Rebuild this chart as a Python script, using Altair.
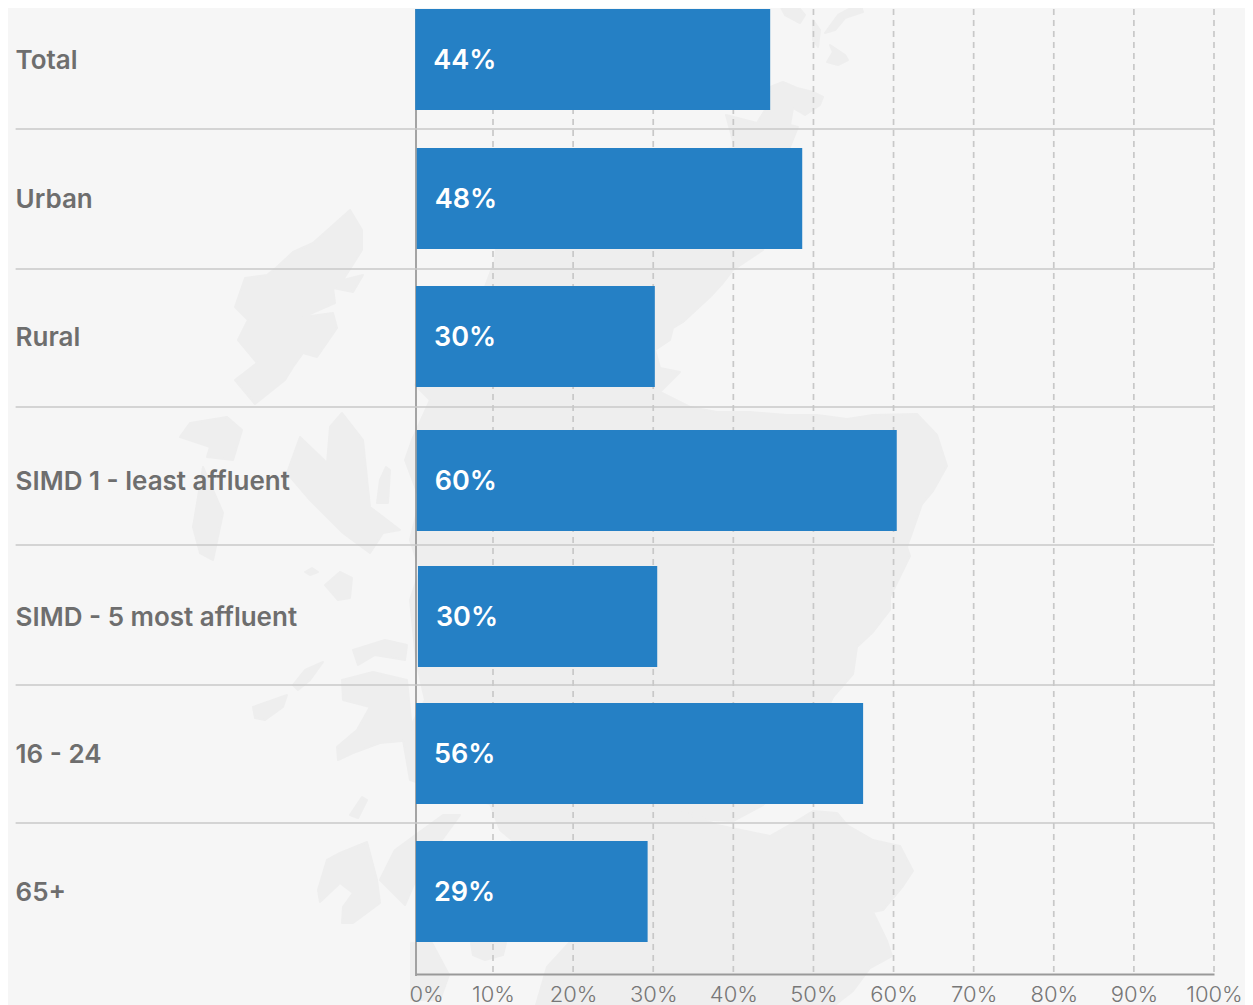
import altair as alt

categories = ["Total", "Urban", "Rural", "SIMD 1 - least affluent",
              "SIMD - 5 most affluent", "16 - 24", "65+"]
values = [44.6, 48.6, 30.2, 60.4, 30.5, 56.2, 29.3]
bar_starts = [-0.1, 0.1, 0.0, 0.1, 0.25, 0.0, 0.0]
value_labels = ["44%", "48%", "30%", "60%", "30%", "56%", "29%"]
rows = list(range(7))
separators = [0.5, 1.5, 2.5, 3.5, 4.5, 5.5]
grid_ticks = [10, 20, 30, 40, 50, 60, 70, 80, 90, 100]
axis_ticks = [0] + grid_ticks

# Decorative background map outlines (map units = picture pixels)
mainland = [(505,165),(560,158),(640,155),(700,152),(735,148),(726,115),(757,123),(765,110),(770,87),(783,82),(797,88),(813,92),(823,97),(820,105),(805,115),(793,108),(790,125),(798,127),(790,147),(780,200),(763,250),(733,270),(723,283),(710,297),(683,322),(673,328),(670,340),(655,350),(660,368),(680,372),(660,392),(690,407),(717,412),(750,412),(787,415),(817,415),(847,419),(873,415),(917,414),(937,435),(947,466),(933,491),(922,504),(907,547),(910,556),(890,597),(890,610),(873,632),(857,647),(853,674),(833,697),(800,770),(763,805),(733,821),(693,819),(677,806),(717,825),(770,836),(800,819),(813,811),(837,813),(847,825),(873,840),(900,846),(913,871),(903,886),(883,910),(873,912),(887,941),(892,956),(870,968),(853,991),(835,1005),(536,1005),(547,967),(569,943),(560,880),(500,830),(490,804),(440,790),(410,780),(403,740),(425,700),(416,660),(410,600),(420,570),(410,540),(420,500),(405,460),(412,440),(430,400),(415,385),(440,340),(480,300),(495,260),(500,200)]
lewis = [(350,210),(362,230),(362,250),(343,280),(363,275),(353,292),(333,288),(335,303),(303,317),(333,313),(337,328),(317,357),(303,353),(293,367),(285,380),(255,404),(235,380),(257,363),(238,340),(248,320),(235,307),(245,278),(267,275),(277,267),(293,252),(313,243)]
uist_n = [(180,437),(190,423),(227,417),(242,430),(233,460),(207,457),(210,447)]
uist_s = [(203,467),(223,513),(213,560),(200,553),(193,527)]
skye = [(342,413),(363,440),(370,507),(400,530),(383,533),(370,553),(343,533),(320,510),(310,500),(287,473),(300,437),(327,463),(330,427)]
raasay = [(386,467),(390,470),(388,503),(377,503),(380,480)]
rum = [(325,585),(340,572),(352,578),(350,598),(338,600)]
eigg = [(305,572),(312,568),(318,572),(310,575)]
coll = [(253,707),(287,695),(283,707),(265,720),(255,718)]
tiree = [(293,685),(305,670),(323,662),(310,680),(298,690)]
mull = [(342,680),(373,672),(407,680),(413,740),(380,743),(353,753),(338,760),(337,747),(357,730),(370,707),(343,700)]
ardnamurchan = [(353,650),(385,640),(407,645),(405,660),(375,655),(358,665)]
islay = [(367,842),(377,880),(380,903),(353,923),(342,923),(343,907),(353,893),(340,883),(320,902),(318,890),(327,860),(340,853)]
colonsay = [(362,797),(367,800),(358,818),(350,815)]
kintyre = [(443,815),(460,815),(420,870),(405,905),(380,880),(395,850)]
arran = [(411,943),(432,943),(449,975),(440,1000),(411,1000)]
bute = [(471,943),(506,943),(503,955),(485,960),(473,955)]
orkney_a = [(860,3),(863,12),(845,18),(835,30),(825,33),(838,15)]
orkney_b = [(830,45),(845,55),(848,60),(838,65),(827,62),(833,52)]
orkney_c = [(777,0),(795,3),(805,15),(800,23),(785,15)]
orkney_d = [(813,20),(820,30),(818,47),(813,40)]
map_shapes = [mainland, lewis, uist_n, uist_s, skye, raasay, rum, eigg, coll, tiree, mull,
              ardnamurchan, islay, colonsay, kintyre, arran, bute, orkney_a, orkney_b, orkney_c, orkney_d]

BAR = "#2580c5"
FONT = "Inter"
rows_df = alt.Data(values=[
    {"row": r, "cat": c, "value": v, "start": s, "label": l}
    for r, c, v, s, l in zip(rows, categories, values, bar_starts, value_labels)
])

features = [{"type": "Feature", "properties": {},
             "geometry": {"type": "Polygon", "coordinates": [[list(p) for p in s] + [list(s[0])]]}}
            for s in map_shapes]

x_scale = alt.Scale(domain=[0, 10, 100], range=[0, 77, 798], nice=False, zero=False)
y_scale = alt.Scale(
    domain=[-0.5, 0, 0.5, 1, 1.5, 2, 2.5, 3, 3.5, 4, 4.5, 5, 5.5, 6, 6.5],
    range=[-18, 51.5, 121, 190.5, 261, 328.5, 399, 472.5, 537, 608.5, 677, 745.5, 815, 883.5, 953],
    nice=False, zero=False)

xq = lambda f: alt.X(f, type="quantitative", scale=x_scale, title=None,
                     axis=alt.Axis(values=axis_ticks, format="d", labelExpr="datum.value + '%'",
                                   grid=False, ticks=False, domainColor="#999999", domainWidth=2,
                                   labelFont=FONT, labelFontSize=22, labelFontWeight=300,
                                   labelColor="#777777", labelPadding=10, zindex=1,
                                   labelFlush=False, labelOverlap=False,
                                   labelOffset={"condition": {"test": "datum.value === 0", "value": 10}, "value": 0}))
yq = lambda f: alt.Y(f, type="quantitative", scale=y_scale, axis=None)

map_layer = alt.Chart(alt.Data(values=features)).mark_geoshape(
    fill="#eeeeee", stroke="#eeeeee", strokeWidth=2, strokeJoin="round", clip=False
).project(type="identity", scale=1, translate=[-416, -8])

grid = alt.Chart(alt.Data(values=[{"t": t} for t in grid_ticks])).mark_rule(
    color="#c8c8c8", strokeWidth=1.7, strokeDash=[6, 5]
).encode(x=xq("t"), y=alt.value(1), y2=alt.value(966))

zero_line = alt.Chart(alt.Data(values=[{"t": 0}])).mark_rule(
    color="#888888", strokeWidth=1.5
).encode(x=xq("t"), y=alt.value(1), y2=alt.value(968))

seps = alt.Chart(alt.Data(values=[{"s": s} for s in separators])).mark_rule(
    color="#c9c9c9", strokeWidth=1.7
).encode(x=alt.X(datum=-52, type="quantitative", scale=x_scale), x2=alt.X2(datum=100), y=yq("s"))

bars = alt.Chart(rows_df).mark_bar(height=101, orient="horizontal", color=BAR).encode(
    x=xq("start"), x2="value", y=yq("row"))

bar_text = alt.Chart(rows_df).mark_text(
    align="left", baseline="middle", dx=18, dy=1, font=FONT, fontSize=27, fontWeight=600, color="#ffffff"
).encode(x=xq("start"), y=yq("row"), text="label:N")

cat_text = alt.Chart(rows_df).mark_text(
    align="left", baseline="middle", dy=1, font=FONT, fontSize=26, fontWeight=600, color="#6e6e6e"
).encode(x=alt.X(datum=-52, type="quantitative", scale=x_scale), y=yq("row"), text="cat:N")

chart = alt.layer(map_layer, grid, zero_line, bars, seps, bar_text, cat_text).properties(
    width=798, height=966,
    autosize=alt.AutoSizeParams(type="none"),
    padding={"left": 408, "right": 31, "top": 0, "bottom": 31},
    background="#f6f6f6",
).configure_view(stroke=None)

chart.save("out.html", embed_options={"renderer": "svg", "actions": False})
